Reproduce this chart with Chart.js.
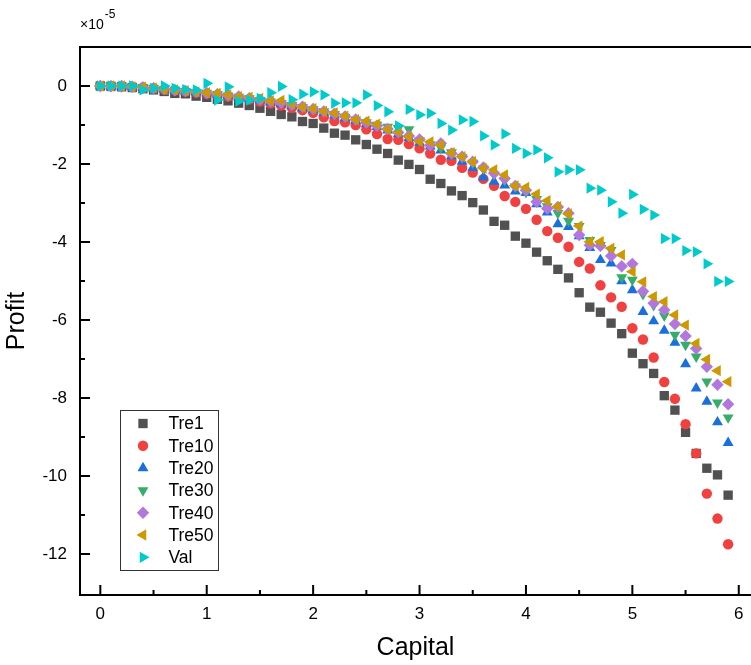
<!DOCTYPE html>
<html>
<head>
<meta charset="utf-8">
<script src="https://cdn.jsdelivr.net/npm/chart.js@4.4.0/dist/chart.umd.min.js"></script>
<style>
  html, body { margin: 0; padding: 0; background: #ffffff; }
  canvas { display: block; }
</style>
</head>
<body>
<canvas id="c" width="751" height="665"></canvas>
<script>
// ---- data (profit in units of 1e-5) ----
const capital = [0, 0.1, 0.2, 0.3, 0.4, 0.5, 0.6, 0.7, 0.8, 0.9,
  1.0, 1.1, 1.2, 1.3, 1.4, 1.5, 1.6, 1.7, 1.8, 1.9,
  2.0, 2.1, 2.2, 2.3, 2.4, 2.5, 2.6, 2.7, 2.8, 2.9,
  3.0, 3.1, 3.2, 3.3, 3.4, 3.5, 3.6, 3.7, 3.8, 3.9,
  4.0, 4.1, 4.2, 4.3, 4.4, 4.5, 4.6, 4.7, 4.8, 4.9,
  5.0, 5.1, 5.2, 5.3, 5.4, 5.5, 5.6, 5.7, 5.8, 5.9];

const tre1 = [0, -0.01, -0.02, -0.04, -0.07, -0.10, -0.14, -0.19, -0.20, -0.26,
  -0.29, -0.34, -0.38, -0.44, -0.50, -0.57, -0.65, -0.73, -0.79, -0.91,
  -0.96, -1.08, -1.21, -1.26, -1.38, -1.50, -1.62, -1.73, -1.90, -2.01,
  -2.14, -2.39, -2.50, -2.69, -2.81, -2.99, -3.18, -3.47, -3.57, -3.85,
  -4.03, -4.26, -4.48, -4.70, -4.92, -5.30, -5.67, -5.80, -6.08, -6.35,
  -6.85, -7.12, -7.37, -7.94, -8.31, -8.88, -9.42, -9.80, -9.97, -10.49];

const tre10 = [0, 0, -0.01, -0.02, -0.04, -0.06, -0.09, -0.11, -0.14, -0.17,
  -0.20, -0.23, -0.27, -0.31, -0.35, -0.40, -0.45, -0.50, -0.56, -0.62,
  -0.69, -0.80, -0.90, -0.93, -1.00, -1.11, -1.23, -1.36, -1.38, -1.49,
  -1.60, -1.73, -1.89, -1.92, -2.10, -2.22, -2.38, -2.56, -2.82, -2.97,
  -3.15, -3.43, -3.72, -3.89, -4.12, -4.51, -4.68, -5.11, -5.42, -5.66,
  -6.21, -6.50, -6.96, -7.59, -8.02, -8.67, -9.42, -10.45, -11.09, -11.75];

const tre20 = [0, -0.01, -0.01, -0.03, -0.04, -0.06, -0.09, -0.11, -0.14, -0.16,
  -0.19, -0.22, -0.26, -0.30, -0.33, -0.37, -0.42, -0.46, -0.51, -0.57,
  -0.62, -0.68, -0.75, -0.82, -0.89, -0.97, -1.05, -1.14, -1.23, -1.33,
  -1.45, -1.55, -1.65, -1.80, -1.94, -2.10, -2.34, -2.45, -2.55, -2.70,
  -2.74, -3.03, -3.24, -3.54, -3.61, -3.85, -4.15, -4.46, -4.55, -5.00,
  -5.23, -5.79, -6.03, -6.27, -6.58, -7.13, -7.75, -8.09, -8.62, -9.15];

const tre30 = [0, 0, -0.01, -0.02, -0.03, -0.05, -0.08, -0.10, -0.13, -0.16,
  -0.18, -0.21, -0.25, -0.28, -0.32, -0.36, -0.40, -0.44, -0.49, -0.54,
  -0.60, -0.65, -0.72, -0.79, -0.86, -0.93, -1.00, -1.05, -1.08, -1.11,
  -1.40, -1.50, -1.58, -1.70, -1.83, -1.97, -2.12, -2.27, -2.42, -2.58,
  -2.72, -2.90, -3.09, -3.26, -3.46, -3.59, -3.95, -4.08, -4.21, -4.91,
  -4.97, -5.34, -5.62, -5.89, -6.38, -6.64, -6.94, -7.58, -8.12, -8.50];

const tre40 = [0, -0.01, 0, -0.02, -0.04, -0.06, -0.08, -0.11, -0.13, -0.15,
  -0.18, -0.21, -0.24, -0.27, -0.31, -0.35, -0.39, -0.43, -0.48, -0.53,
  -0.59, -0.65, -0.71, -0.78, -0.86, -0.94, -1.02, -1.10, -1.19, -1.28,
  -1.37, -1.52, -1.47, -1.73, -1.81, -1.94, -2.09, -2.24, -2.37, -2.56,
  -2.67, -2.97, -3.14, -3.10, -3.26, -3.82, -4.08, -4.10, -4.36, -4.62,
  -4.56, -5.26, -5.57, -5.74, -6.10, -6.41, -6.73, -7.20, -7.66, -8.16];

const tre50 = [0, 0, 0, -0.02, -0.03, -0.05, -0.09, -0.10, -0.12, -0.15,
  -0.17, -0.19, -0.23, -0.27, -0.29, -0.32, -0.38, -0.37, -0.46, -0.54,
  -0.58, -0.65, -0.69, -0.77, -0.86, -0.90, -0.98, -1.11, -1.17, -1.30,
  -1.42, -1.43, -1.51, -1.71, -1.81, -1.94, -2.11, -2.15, -2.28, -2.56,
  -2.60, -2.77, -2.94, -3.09, -3.28, -3.59, -3.99, -3.99, -4.16, -4.33,
  -4.76, -5.02, -5.40, -5.53, -5.87, -6.13, -6.60, -7.01, -7.30, -7.58];

const val = [0, 0, 0, 0, -0.10, -0.06, 0, -0.06, -0.09, -0.10,
  0.07, -0.36, -0.02, -0.39, -0.36, -0.32, -0.17, -0.01, -0.35, -0.21,
  -0.15, -0.23, -0.44, -0.43, -0.43, -0.23, -0.50, -0.66, -1.02, -0.60,
  -0.74, -0.70, -0.96, -1.13, -0.87, -0.91, -1.28, -1.51, -1.23, -1.60,
  -1.73, -1.64, -1.84, -2.20, -2.15, -2.15, -2.62, -2.67, -2.97, -3.26,
  -2.78, -3.16, -3.31, -3.91, -3.91, -4.22, -4.25, -4.56, -5.01, -5.01];

const seriesNames = ['Tre1', 'Tre10', 'Tre20', 'Tre30', 'Tre40', 'Tre50', 'Val'];
const seriesValues = [tre1, tre10, tre20, tre30, tre40, tre50, val];

const xTicks = [0, 1, 2, 3, 4, 5, 6];
const xTickLabels = ['0', '1', '2', '3', '4', '5', '6'];
const yTicks = [0, -2, -4, -6, -8, -10, -12];
const yTickLabels = ['0', '-2', '-4', '-6', '-8', '-10', '-12'];
const xMinorTicks = [0.5, 1.5, 2.5, 3.5, 4.5, 5.5];
const yMinorTicks = [-1, -3, -5, -7, -9, -11];

// ---- styles ----
const colors = ['#515151', '#F14040', '#1A6FDF', '#37AD6B', '#B177DE', '#CC9900', '#00CBCC'];
const styles = [
  { pointStyle: 'rect', rotation: 0, radius: 6.6 },
  { pointStyle: 'circle', rotation: 0, radius: 5.2 },
  { pointStyle: 'triangle', rotation: 0, radius: 6.3 },
  { pointStyle: 'triangle', rotation: 180, radius: 6.3 },
  { pointStyle: 'rectRot', rotation: 0, radius: 6.2 },
  { pointStyle: 'triangle', rotation: -90, radius: 6.5 },
  { pointStyle: 'triangle', rotation: 90, radius: 6.5 }
];

const FONT = '"Liberation Sans", Arial, sans-serif';

const datasets = seriesNames.map((name, i) => ({
  label: name,
  data: capital.map((c, k) => ({ x: c, y: seriesValues[i][k] })),
  backgroundColor: colors[i],
  borderColor: colors[i],
  borderWidth: 0,
  pointStyle: styles[i].pointStyle,
  rotation: styles[i].rotation,
  pointRadius: styles[i].radius,
  pointHoverRadius: styles[i].radius,
  order: seriesNames.length - 1 - i,
  clip: 20
}));

// frame (left, bottom, top), inward ticks, exponent label
const axesPlugin = {
  id: 'axesPlugin',
  afterDraw(chart) {
    const ctx = chart.ctx;
    const { left, right, top, bottom } = chart.chartArea;
    const xs = chart.scales.x, ys = chart.scales.y;
    ctx.save();
    ctx.strokeStyle = '#000';
    ctx.lineWidth = 2;
    ctx.beginPath();
    ctx.moveTo(left, top); ctx.lineTo(left, bottom);
    ctx.moveTo(left - 1, bottom); ctx.lineTo(right + 2, bottom);
    ctx.moveTo(left - 1, top); ctx.lineTo(right + 2, top);
    // major ticks
    xTicks.forEach(v => { const p = xs.getPixelForValue(v); ctx.moveTo(p, bottom); ctx.lineTo(p, bottom - 10); });
    yTicks.forEach(v => { const p = ys.getPixelForValue(v); ctx.moveTo(left, p); ctx.lineTo(left + 10, p); });
    // minor ticks
    xMinorTicks.forEach(v => { const p = xs.getPixelForValue(v); ctx.moveTo(p, bottom); ctx.lineTo(p, bottom - 5); });
    yMinorTicks.forEach(v => { const p = ys.getPixelForValue(v); ctx.moveTo(left, p); ctx.lineTo(left + 5, p); });
    ctx.stroke();
    // exponent
    ctx.fillStyle = '#000';
    ctx.textBaseline = 'alphabetic';
    ctx.textAlign = 'left';
    ctx.font = '14px ' + FONT;
    ctx.fillText('\u00d710', left, top - 18);
    const w = ctx.measureText('\u00d710').width;
    ctx.font = '12px ' + FONT;
    ctx.fillText('-5', left + w + 1, top - 29);
    ctx.restore();
  }
};

// legend box inside plot
const legendPlugin = {
  id: 'boxLegend',
  afterDraw(chart) {
    const ctx = chart.ctx;
    const { left, bottom } = chart.chartArea;
    const bx = left + 40.5, by = bottom - 185 + 0.5, bw = 98, bh = 160;
    ctx.save();
    ctx.strokeStyle = '#333';
    ctx.lineWidth = 1;
    ctx.strokeRect(bx, by, bw, bh);
    const rowH = 22.3;
    seriesNames.forEach((name, i) => {
      const cy = by + 13 + rowH * i;
      const cx = bx + 22.5;
      ctx.fillStyle = colors[i];
      ctx.strokeStyle = colors[i];
      if (Chart.helpers && Chart.helpers.drawPoint) {
        Chart.helpers.drawPoint(ctx, { pointStyle: styles[i].pointStyle, rotation: styles[i].rotation, radius: styles[i].radius, borderWidth: 0 }, cx, cy);
      } else {
        ctx.beginPath(); ctx.arc(cx, cy, 5, 0, Math.PI * 2); ctx.fill();
      }
      ctx.fillStyle = '#000';
      ctx.font = '17.5px ' + FONT;
      ctx.textAlign = 'left';
      ctx.textBaseline = 'middle';
      ctx.fillText(name, bx + 48, cy + 1);
    });
    ctx.restore();
  }
};

Chart.defaults.font.family = FONT;
Chart.defaults.color = '#000';

new Chart(document.getElementById('c'), {
  type: 'scatter',
  data: { datasets },
  options: {
    responsive: false,
    animation: false,
    events: [],
    layout: { autoPadding: false, padding: { left: 0, right: 0, top: 47, bottom: 0 } },
    plugins: { legend: { display: false }, tooltip: { enabled: false } },
    scales: {
      x: {
        type: 'linear',
        min: -0.191,
        max: 6.115,
        grid: { display: false, drawTicks: false },
        border: { display: false },
        ticks: {
          font: { size: 17 },
          color: '#000',
          padding: 9,
          maxRotation: 0,
          autoSkip: false,
          callback: (v) => { const k = xTicks.indexOf(v); return k >= 0 ? xTickLabels[k] : ''; }
        },
        afterBuildTicks: (s) => { s.ticks = xTicks.map(v => ({ value: v })); },
        afterFit: (s) => { s.height = 70; s.paddingLeft = 0; s.paddingRight = 0; },
        title: { display: true, text: 'Capital', font: { size: 25 }, color: '#000', padding: 2 }
      },
      y: {
        type: 'linear',
        min: -13.05,
        max: 1.0,
        grid: { display: false, drawTicks: false },
        border: { display: false },
        ticks: {
          font: { size: 17 },
          color: '#000',
          padding: 13,
          autoSkip: false,
          callback: (v) => { const k = yTicks.indexOf(v); return k >= 0 ? yTickLabels[k] : ''; }
        },
        afterBuildTicks: (s) => { s.ticks = yTicks.map(v => ({ value: v })); },
        afterFit: (s) => { s.width = 80; s.paddingTop = 0; s.paddingBottom = 0; },
        title: { display: true, text: 'Profit', font: { size: 25 }, color: '#000', padding: 2 }
      }
    }
  },
  plugins: [axesPlugin, legendPlugin]
});
</script>
</body>
</html>
